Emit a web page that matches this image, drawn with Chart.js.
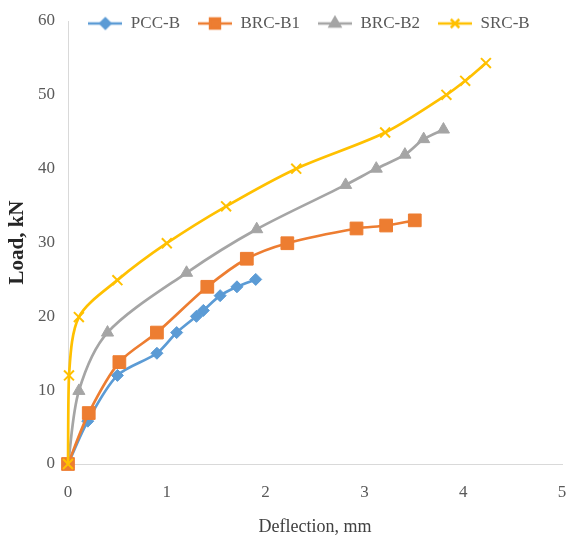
<!DOCTYPE html>
<html>
<head>
<meta charset="utf-8">
<script src="https://cdn.jsdelivr.net/npm/chart.js@4.4.1/dist/chart.umd.min.js"></script>
<style>
  html, body { margin: 0; padding: 0; background: #fff; }
</style>
</head>
<body>
<canvas id="chart" width="568" height="541"></canvas>
<script>
const SERIES_NAMES = ["PCC-B", "BRC-B1", "BRC-B2", "SRC-B"];

// deflection (mm) / load (kN)
const PCC_X = [0, 0.2, 0.5, 0.9, 1.1, 1.3, 1.37, 1.54, 1.71, 1.9];
const PCC_Y = [0, 5.8, 12, 15, 17.8, 20, 20.8, 22.8, 24, 25];

const BRC1_X = [0, 0.21, 0.52, 0.9, 1.41, 1.81, 2.22, 2.92, 3.22, 3.51];
const BRC1_Y = [0, 6.9, 13.8, 17.8, 24, 27.8, 29.9, 31.9, 32.3, 33];

const BRC2_X = [0, 0.11, 0.4, 1.2, 1.91, 2.81, 3.12, 3.41, 3.6, 3.8];
const BRC2_Y = [0, 9.9, 17.8, 25.9, 31.8, 37.8, 40, 41.9, 44, 45.3];

const SRC_X = [0, 0.01, 0.11, 0.5, 1.0, 1.6, 2.31, 3.21, 3.83, 4.02, 4.23];
const SRC_Y = [0, 12, 19.9, 24.9, 29.9, 34.9, 40, 44.9, 50, 51.9, 54.3];

const X_TICKS = [0, 1, 2, 3, 4, 5];
const Y_TICKS = [0, 10, 20, 30, 40, 50, 60];

const COLORS = ["#5b9bd5", "#ed7d31", "#a5a5a5", "#ffc000"];
const MARKERS = ["rectRot", "rect", "triangle", "crossRot"];
const RADII = [6, 9, 7, 7];
const DRAW_ORDER = [3, 1, 2, 0];

const FONT = "'Liberation Serif', 'Times New Roman', serif";

function toPoints(xs, ys) {
  return xs.map((x, i) => ({ x: x, y: ys[i] }));
}

function legendIcon(color, style, radius) {
  const c = document.createElement("canvas");
  c.width = 34;
  c.height = 18;
  const ctx = c.getContext("2d");
  ctx.strokeStyle = color;
  ctx.fillStyle = color;
  ctx.lineWidth = 2.5;
  ctx.beginPath();
  ctx.moveTo(0, 9);
  ctx.lineTo(34, 9);
  ctx.stroke();
  Chart.helpers.drawPoint(ctx, {
    pointStyle: style, radius: radius, rotation: 0, borderWidth: 2
  }, 17, 9);
  return c;
}

const seriesPoints = [
  toPoints(PCC_X, PCC_Y),
  toPoints(BRC1_X, BRC1_Y),
  toPoints(BRC2_X, BRC2_Y),
  toPoints(SRC_X, SRC_Y)
];

const datasets = SERIES_NAMES.map((name, i) => ({
  label: name,
  data: seriesPoints[i],
  showLine: true,
  borderColor: COLORS[i],
  backgroundColor: COLORS[i],
  borderWidth: 2.7,
  tension: 0.3,
  pointStyle: MARKERS[i],
  pointRadius: RADII[i],
  pointBorderWidth: i === 3 ? 2 : 1,
  pointHoverRadius: RADII[i],
  order: DRAW_ORDER[i],
  clip: false
}));

const legendIcons = SERIES_NAMES.map((n, i) =>
  legendIcon(COLORS[i], MARKERS[i], i === 1 ? 7 : RADII[i] - 1));

// legend sits inside the plot, over the top edge
const legendShift = {
  id: "legendShift",
  afterLayout(chart) {
    const lg = chart.legend;
    lg.top = -3;
    lg.bottom = 42;
    lg.height = 45;
    lg.left += 28;
    lg.right += 28;
  }
};

new Chart(document.getElementById("chart"), {
  type: "scatter",
  data: { datasets: datasets },
  plugins: [legendShift],
  options: {
    responsive: false,
    animation: false,
    layout: {
      autoPadding: false,
      padding: { top: 20, right: 6, bottom: 0, left: 0 }
    },
    plugins: {
      tooltip: { enabled: false },
      legend: {
        position: "top",
        maxHeight: 1,
        labels: {
          usePointStyle: true,
          pointStyleWidth: 34,
          padding: 18,
          color: "#595959",
          font: { family: FONT, size: 17 },
          generateLabels(chart) {
            return SERIES_NAMES.map((name, i) => ({
              text: name,
              datasetIndex: i,
              pointStyle: legendIcons[i],
              fontColor: "#595959",
              hidden: false,
              lineWidth: 0,
              strokeStyle: COLORS[i],
              fillStyle: COLORS[i]
            }));
          }
        }
      }
    },
    scales: {
      x: {
        type: "linear",
        min: 0,
        max: 5,
        afterBuildTicks(scale) {
          scale.ticks = X_TICKS.map(v => ({ value: v }));
        },
        afterFit(scale) {
          scale.height = 77;
          scale.paddingRight = 0;
        },
        grid: { display: false, drawTicks: false },
        border: { display: true, color: "#d9d9d9", width: 1 },
        ticks: {
          color: "#595959",
          padding: 18,
          font: { family: FONT, size: 17 }
        },
        title: {
          display: true,
          text: "Deflection, mm",
          color: "#404040",
          padding: { top: 0, bottom: 3 },
          font: { family: FONT, size: 18 }
        }
      },
      y: {
        type: "linear",
        min: 0,
        max: 60,
        afterBuildTicks(scale) {
          scale.ticks = Y_TICKS.map(v => ({ value: v }));
        },
        afterFit(scale) {
          scale.width = 68;
          scale.paddingTop = 0;
        },
        grid: { display: false, drawTicks: false },
        border: { display: true, color: "#d9d9d9", width: 1 },
        ticks: {
          color: "#595959",
          padding: 13,
          font: { family: FONT, size: 17 }
        },
        title: {
          display: true,
          text: "Load, kN",
          color: "#262626",
          padding: { top: 5, bottom: 0 },
          font: { family: FONT, size: 21, weight: "bold" }
        }
      }
    }
  }
});
</script>
</body>
</html>
